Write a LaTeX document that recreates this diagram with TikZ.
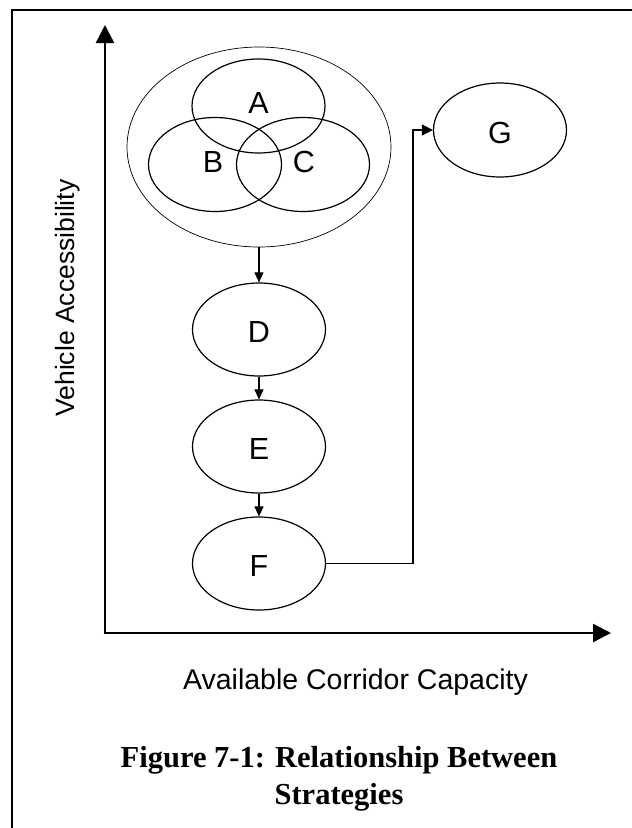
\documentclass[tikz,border=0pt]{standalone}
\usepackage{fontspec}
\setmainfont{Liberation Sans}
\newfontfamily\capfont{Liberation Serif}
\usetikzlibrary{arrows.meta,shapes.geometric}

\begin{document}
\begin{tikzpicture}[x=1pt,y=-1pt,
  oval/.style={draw, ellipse, line width=1.2pt, inner sep=0pt,
    minimum width=133pt, minimum height=94pt,
    font=\fontsize{30.5}{34}\selectfont},
  letter/.style={font=\fontsize{30.5}{34}\selectfont, inner sep=0pt},
  flow/.style={line width=1.1pt, -{Triangle[length=10pt,width=9pt]}},
  axis/.style={line width=2.4pt, -{Triangle[length=18pt,width=18pt]}},
  axislabel/.style={font=\fontsize{28.5}{32}\selectfont, inner sep=0pt},
  caption/.style={font=\capfont\bfseries\fontsize{30.5}{37}\selectfont,
    align=center, inner sep=0pt}]

  % page extent
  \useasboundingbox (0,0) rectangle (632,828);

  % frame lines (top and left)
  \draw[line width=2pt, line cap=rect] (632,10) -- (12,10) -- (12,830);

  % axes
  \coordinate (origin) at (105,633);
  \coordinate (ytip) at (105,25);
  \coordinate (xtip) at (611,633);
  \draw[axis] ([yshift=1.2pt]origin) -- (ytip);
  \draw[axis] ([xshift=-1.2pt]origin) -- (xtip);

  % axis labels
  \node[axislabel, font=\fontsize{26.5}{30}\selectfont, rotate=90, anchor=base]
    (ylab) at (74,298) {Vehicle Accessibility};
  \node[axislabel, anchor=base] (xlab) at (355.5,689) {Available Corridor Capacity};

  % grouped strategies A, B, C
  \node[draw, ellipse, line width=0.7pt, inner sep=0pt,
        minimum width=264pt, minimum height=200pt] (grp) at (259,147) {};
  \node[oval] (A) at (258.5,106) {};
  \node[oval] (B) at (215,164.5) {};
  \node[oval] (C) at (303,164.5) {};
  \node[letter] at (258.5,103) {A};
  \node[letter] at (213,162) {B};
  \node[letter] at (304,162) {C};

  % chain of strategies
  \node[oval, minimum height=93pt] (D) at (259,329.5) {};
  \node[oval, minimum height=93pt] (E) at (259,446.5) {};
  \node[oval, minimum height=93pt] (F) at (259,563.5) {};
  \node[oval] (G) at (500,130) {};
  \node[letter] at ([yshift=-2.5pt]D.center) {D};
  \node[letter] at ([yshift=-2.5pt]E.center) {E};
  \node[letter] at ([yshift=-2.5pt]F.center) {F};
  \node[letter] at ([yshift=-2.5pt]G.center) {G};

  \draw[flow] (grp.south) -- (D.north);
  \draw[flow] (D.south) -- (E.north);
  \draw[flow] (E.south) -- (F.north);

  \coordinate (bend) at (413,563.5);
  \draw[line width=1.2pt, -{Triangle[length=11pt,width=11pt]}]
    (F.east) -- (bend) |- (G.west);

  % caption
  \node[caption, anchor=north] (cap) at (339,746)
    {Figure 7-1: Relationship Between\\Strategies};
\end{tikzpicture}
\end{document}
